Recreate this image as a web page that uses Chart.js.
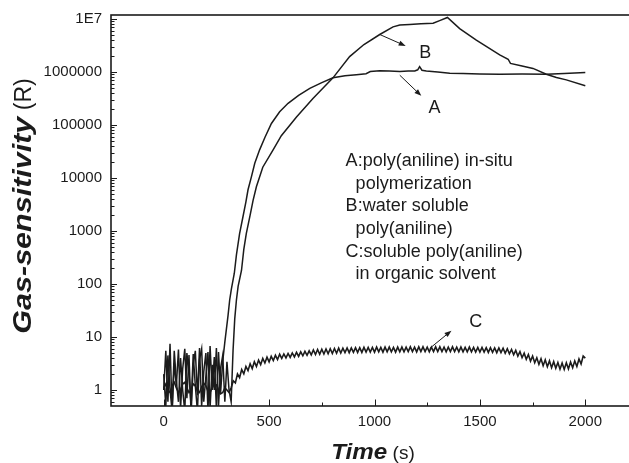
<!DOCTYPE html>
<html>
<head>
<meta charset="utf-8">
<script src="https://cdn.jsdelivr.net/npm/chart.js@4.4.1/dist/chart.umd.min.js"></script>
<style>
  html, body { margin: 0; padding: 0; background: #fff; overflow: hidden; }
  #wrap { width: 650px; height: 463px; }
</style>
</head>
<body>
<div id="wrap"><canvas id="chart" width="650" height="463"></canvas></div>
<script>
// Gas-sensitivity response of three poly(aniline) films, time in seconds.

// A: poly(aniline) in-situ polymerization
const timeA = [0, 10, 20, 30, 40, 50, 60, 70, 80, 90, 100, 110, 120, 130, 140, 150, 160, 170, 180, 190,
  200, 210, 220, 230, 240, 250, 260, 270, 280,
  290, 305, 313, 321, 335, 345, 360, 376, 390, 400, 416, 432, 455, 480, 511, 550, 590, 640, 693, 750,
  803, 860, 914, 960, 980, 1025, 1070, 1120, 1160, 1191, 1205, 1214, 1225, 1246, 1300, 1357, 1420,
  1500, 1594, 1700, 1815, 1900, 2000];
const gasA = [1.0, 5.5, 0.6, 7.5, 0.4, 3.2, 1.2, 5.8, 0.45, 2.5, 6.0, 0.7, 4.6, 0.35, 3.0, 5.5, 0.8, 6.2, 0.5, 2.2,
  5.0, 0.4, 6.8, 1.0, 4.2, 0.45, 5.2, 0.9, 3.5,
  8, 25, 50, 80, 160, 355, 890, 1860, 3550, 6000, 10500, 19000, 34000, 58000, 107000, 178000, 257000, 363000, 490000, 630000,
  776000, 850000, 890000, 930000, 1020000, 1060000, 1040000, 1020000, 1040000, 1050000, 1100000, 1260000, 1080000, 1050000, 1000000, 950000, 940000,
  920000, 910000, 920000, 910000, 940000, 980000];

// B: water soluble poly(aniline)
const timeB = [0, 10, 20, 30, 40, 50, 60, 70, 80, 90, 100, 110, 120, 130, 140, 150, 160, 170, 180, 190,
  200, 210, 220, 230, 240, 250, 260, 270, 280, 290, 300, 310, 320,
  329, 337, 345, 353, 369, 380, 392, 410, 424, 440, 470, 519, 558, 630, 708, 803, 882, 950, 1025, 1088,
  1120, 1167, 1220, 1278, 1309, 1346, 1404, 1483, 1594, 1634, 1645, 1700, 1752, 1815, 1863, 1910, 2000];
const gasB = [2.0, 0.5, 4.5, 1.0, 0.4, 5.5, 1.5, 0.6, 4.0, 1.0, 0.4, 5.0, 2.0, 0.5, 4.8, 1.2, 0.4, 3.8, 6.0, 0.6,
  1.8, 5.2, 0.45, 3.0, 1.0, 6.2, 0.5, 2.6, 4.5, 0.6, 3.4, 1.0, 0.6,
  5.6, 22, 50, 90, 180, 450, 900, 2000, 3800, 6900, 16000, 34000, 63000, 141000, 316000, 776000, 1950000, 3300000, 5100000, 7100000,
  7700000, 7900000, 8100000, 8300000, 9300000, 10700000, 6600000, 4000000, 2100000, 1740000, 1450000, 1300000, 1170000, 910000, 790000, 710000, 550000];

// C: soluble poly(aniline) in organic solvent, sampled every 10 s from 0 to 2000 s
const gasC = [1.1, 1.3, 1.0, 0.9, 1.2, 1.4, 1.1, 0.9, 1.0, 1.3, 1.4, 1.1, 0.9, 1.0, 1.3, 1.2, 0.95, 0.9, 1.15, 1.35,
  1.2, 0.95, 0.9, 1.1, 1.3, 1.25, 1.0, 0.85, 0.9, 1.1, 1.0, 0.9, 1.1,
  1.50, 1.36, 2.02, 1.72, 2.43, 2.02, 2.79, 2.32, 3.13, 2.54, 3.43, 2.79, 3.67, 3.02, 3.94, 3.24, 4.17, 3.39,
  4.32, 3.59, 4.52, 3.76, 4.73, 3.94, 4.79, 4.03, 4.90, 4.12, 5.01, 4.22, 5.13, 4.32, 5.25, 4.42, 5.37, 4.52, 5.50, 4.62,
  5.69, 4.68, 5.82, 4.73, 5.89, 4.79, 5.96, 4.84, 6.03, 4.90, 6.10, 4.95, 6.17, 5.01, 6.17, 5.07, 6.24, 5.07, 6.24, 5.13,
  6.31, 5.13, 6.31, 5.13, 6.38, 5.19, 6.38, 5.19, 6.38, 5.19, 6.46, 5.25, 6.38, 5.19, 6.46, 5.25, 6.46, 5.25, 6.38, 5.19,
  6.46, 5.25, 6.46, 5.25, 6.46, 5.31, 6.53, 5.31, 6.46, 5.25, 6.53, 5.31, 6.53, 5.31, 6.46, 5.25, 6.46, 5.31, 6.53, 5.31,
  6.53, 5.31, 6.46, 5.25, 6.46, 5.31, 6.53, 5.31, 6.46, 5.25, 6.46, 5.25, 6.38, 5.25, 6.46, 5.25, 6.38, 5.19, 6.38, 5.19,
  6.38, 5.19, 6.31, 5.13, 6.31, 5.13, 6.24, 5.07, 6.24, 5.07, 6.17, 4.95, 6.03, 4.84, 5.82, 4.62, 5.62, 4.37, 5.31, 4.07,
  4.95, 3.80, 4.68, 3.51, 4.37, 3.27, 4.07, 3.05, 3.89, 2.88, 3.72, 2.75, 3.55, 2.63, 3.43, 2.57, 3.31, 2.48, 3.24, 2.45,
  3.27, 2.51, 3.39, 2.63, 3.55, 2.79, 3.85, 3.09, 4.37, 4.0];
const timeC = gasC.map((_, i) => i * 10);

// Axis ticks and labels
const xTicks = [0, 500, 1000, 1500, 2000];
const xTickLabels = ['0', '500', '1000', '1500', '2000'];
const yTicks = [1, 10, 100, 1000, 10000, 100000, 1000000, 10000000];
const yTickLabels = ['1', '10', '100', '1000', '10000', '100000', '1000000', '1E7'];

// Curve labels, arrows and the description block (data coordinates)
const curveLabels = [
  { text: 'A', x: 1285, y: 2.1e5, from: [1120, 8.7e5], to: [1222, 3.55e5] },
  { text: 'B', x: 1241, y: 2.24e6, from: [1025, 5.1e6], to: [1148, 3.1e6] },
  { text: 'C', x: 1480, y: 19, from: [1262, 6.1], to: [1365, 13.2] }
];
const noteLines = [
  'A:poly(aniline) in-situ',
  '  polymerization',
  'B:water soluble',
  '  poly(aniline)',
  'C:soluble poly(aniline)',
  '  in organic solvent'
];
const noteAnchor = { x: 863, y: 1.7e4 };

const INK = '#1b1b1b';
const FONT = '"Liberation Sans", Arial, Helvetica, sans-serif';

function pts(ts, vs) { return ts.map((t, i) => ({ x: t, y: vs[i] })); }

function arrow(ctx, x0, y0, x1, y1) {
  const ang = Math.atan2(y1 - y0, x1 - x0);
  const hl = 7, hw = 2.6;
  ctx.beginPath();
  ctx.moveTo(x0, y0);
  ctx.lineTo(x1 - Math.cos(ang) * hl * 0.8, y1 - Math.sin(ang) * hl * 0.8);
  ctx.stroke();
  ctx.beginPath();
  ctx.moveTo(x1, y1);
  ctx.lineTo(x1 - Math.cos(ang) * hl - Math.sin(ang) * hw, y1 - Math.sin(ang) * hl + Math.cos(ang) * hw);
  ctx.lineTo(x1 - Math.cos(ang) * hl + Math.sin(ang) * hw, y1 - Math.sin(ang) * hl - Math.cos(ang) * hw);
  ctx.closePath();
  ctx.fill();
}

// Draws a run of differently styled pieces centred on 0 along the current x direction.
function mixedText(ctx, parts) {
  const widths = parts.map(p => { ctx.font = p.font; return ctx.measureText(p.text).width * p.stretch; });
  let pos = -widths.reduce((s, w) => s + w, 0) / 2;
  parts.forEach((p, i) => {
    ctx.save();
    ctx.font = p.font;
    ctx.translate(pos, 0);
    ctx.scale(p.stretch, 1);
    ctx.fillText(p.text, 0, 0);
    ctx.restore();
    pos += widths[i];
  });
}

const decorations = {
  id: 'decorations',
  afterDraw(chart) {
    const { ctx, chartArea: a, scales: { x, y } } = chart;
    ctx.save();
    ctx.strokeStyle = INK;
    ctx.fillStyle = INK;

    // frame
    ctx.lineWidth = 1.6;
    ctx.strokeRect(a.left, a.top, a.right - a.left, a.bottom - a.top);

    // inward ticks on the log axis
    ctx.lineWidth = 1;
    for (let d = -1; d <= 7; d++) {
      for (let m = 1; m <= 9; m++) {
        const v = m * Math.pow(10, d);
        if (v <= y.min * 1.0001 || v > y.max) continue;
        const p = Math.round(y.getPixelForValue(v)) + 0.5;
        const len = m === 1 ? 6 : 3.5;
        ctx.beginPath(); ctx.moveTo(a.left, p); ctx.lineTo(a.left + len, p); ctx.stroke();
      }
    }
    // inward ticks on the time axis
    for (let t = 0; t <= 2000; t += 250) {
      const p = Math.round(x.getPixelForValue(t)) + 0.5;
      const len = t % 500 === 0 ? 6.5 : 3.5;
      ctx.beginPath(); ctx.moveTo(p, a.bottom); ctx.lineTo(p, a.bottom - len); ctx.stroke();
    }

    // axis titles
    ctx.textBaseline = 'alphabetic';
    ctx.textAlign = 'left';
    ctx.save();
    ctx.translate(373, 459);
    mixedText(ctx, [
      { text: 'Time', font: 'italic bold 22px ' + FONT, stretch: 1.1 },
      { text: ' (s)', font: '19px ' + FONT, stretch: 1 }
    ]);
    ctx.restore();

    ctx.save();
    ctx.translate(31, 206);
    ctx.rotate(-Math.PI / 2);
    mixedText(ctx, [
      { text: 'Gas-sensitivity', font: 'italic bold 25px ' + FONT, stretch: 1.22 },
      { text: ' (R)', font: '23px ' + FONT, stretch: 1 }
    ]);
    ctx.restore();

    // curve labels with arrows
    ctx.lineWidth = 1;
    ctx.font = '18px ' + FONT;
    ctx.textAlign = 'center';
    ctx.textBaseline = 'middle';
    curveLabels.forEach(l => {
      ctx.fillText(l.text, x.getPixelForValue(l.x), y.getPixelForValue(l.y));
      arrow(ctx, x.getPixelForValue(l.from[0]), y.getPixelForValue(l.from[1]),
        x.getPixelForValue(l.to[0]), y.getPixelForValue(l.to[1]));
    });

    // description block
    ctx.textAlign = 'left';
    ctx.textBaseline = 'alphabetic';
    ctx.font = '18px ' + FONT;
    const nx = x.getPixelForValue(noteAnchor.x), ny = y.getPixelForValue(noteAnchor.y);
    noteLines.forEach((s, i) => ctx.fillText(s, nx, ny + i * 22.7));
    ctx.restore();
  }
};

const line = (data, w) => ({
  data, borderColor: INK, borderWidth: w, pointRadius: 0, tension: 0, fill: false
});

function noScalePadding(s) {
  s.paddingTop = 0; s.paddingBottom = 0; s.paddingLeft = 0; s.paddingRight = 0;
}

new Chart(document.getElementById('chart'), {
  type: 'line',
  data: {
    datasets: [
      line(pts(timeC, gasC), 1.6),
      line(pts(timeB, gasB), 1.5),
      line(pts(timeA, gasA), 1.5)
    ]
  },
  options: {
    responsive: false,
    animation: false,
    devicePixelRatio: 1,
    layout: { padding: { top: 15, right: 12, left: 0, bottom: 0 } },
    plugins: { legend: { display: false }, tooltip: { enabled: false } },
    scales: {
      x: {
        type: 'linear', min: -250, max: 2250,
        grid: { display: false, drawTicks: false }, border: { display: false },
        afterBuildTicks: s => { s.ticks = xTicks.map(v => ({ value: v })); },
        afterFit: s => { s.height = 57; noScalePadding(s); },
        ticks: {
          autoSkip: false, maxRotation: 0, padding: 7, color: INK,
          font: { family: FONT, size: 15 },
          callback: v => xTickLabels[xTicks.indexOf(v)]
        }
      },
      y: {
        type: 'logarithmic', min: 0.5, max: 1.19e7,
        grid: { display: false, drawTicks: false }, border: { display: false },
        afterBuildTicks: s => { s.ticks = yTicks.map(v => ({ value: v })); },
        afterFit: s => { s.width = 111; noScalePadding(s); },
        ticks: {
          autoSkip: false, padding: 9, color: INK,
          font: { family: FONT, size: 15 },
          callback: v => yTickLabels[yTicks.indexOf(v)]
        }
      }
    }
  },
  plugins: [decorations]
});
</script>
</body>
</html>
